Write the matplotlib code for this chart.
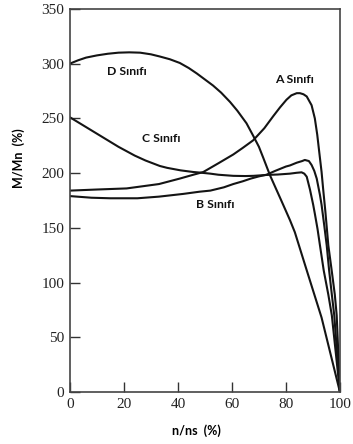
import matplotlib.pyplot as plt

# torque-speed curves, classes A-D
a_x = [0, 10, 21, 33, 40.7, 45.7, 49.4, 55, 60.5, 64, 67.9, 72, 75.3, 77.8, 80.2, 82, 84, 85.2, 86.5, 87.7,
       89.5, 90.7, 91.6, 92.3, 93.2, 93.8, 94.6, 95.7, 97, 98.1, 98.8, 100]
a_y = [184, 185, 186, 190, 195, 198.5, 201, 209, 217, 223, 230, 241, 252, 260, 267, 271, 273, 273, 272, 270,
       262, 250, 235, 220, 201, 185, 165, 134, 110, 89, 70, 0]

b_x = [0, 8, 15, 25, 33, 42, 48, 52, 57, 60.5, 64, 67, 70, 72.8, 76, 80, 81.5, 84, 86, 87, 88.5, 89.5, 90.5,
       91.4, 92.6, 93.2, 94.2, 95.1, 96, 97, 97.9, 100]
b_y = [179, 177.5, 177, 177, 178.5, 181, 183, 184, 187, 190, 192.5, 195, 197, 198.5, 202, 206, 207, 209.5, 211, 212, 211, 207.4, 202,
       195, 180, 171, 152, 134, 111, 89, 70, 0]

c_x = [0, 3, 6, 9, 12, 15, 18, 21, 24, 28, 33.3, 36, 41, 45.7, 48, 52, 55, 60.5, 65, 68, 72.8, 77, 81.5, 84, 85.8,
       86.8, 87.7, 88.9, 90.1, 90.7, 91.7, 92.6, 94, 95.7, 97, 100]
c_y = [251, 246.5, 242, 237.5, 233, 228.5, 224, 220, 216, 211.5, 206.5, 204.8, 202.5, 201, 200.5, 199.5, 198.5, 197.5, 197.3, 197.5, 198.3, 198.7, 199.5, 200.3, 200.7,
       199.5, 196.7, 185, 171, 163, 149, 134, 111, 89, 70, 0]

d_x = [0, 3, 6, 10, 14, 18, 22, 26, 30, 33.3, 37, 40.7, 44, 47, 50, 53, 56, 59.3, 62, 65.4, 67.9, 70, 71.6,
       74.1, 76, 78, 79.8, 81.5, 83.3, 87.6, 93.2, 100]
d_y = [300, 303, 305.5, 307.5, 309, 310, 310.3, 310, 308.5, 306.5, 304, 300.6, 296, 291, 285.5, 280, 273.5, 265, 257, 245.5, 234, 224, 214,
       198, 187.5, 176.5, 166.5, 157, 146, 112, 68, 0]

labels = ['A Sınıfı', 'B Sınıfı', 'C Sınıfı', 'D Sınıfı']
label_x = [83.3, 53.7, 34, 21]
label_y = [285.6, 171, 231.8, 292.7]

x_ticks = [0, 20, 40, 60, 80, 100]
y_ticks = [0, 50, 100, 150, 200, 250, 300, 350]

fig = plt.figure(figsize=(3.53, 4.44), dpi=100)
ax = fig.add_axes([0.198, 0.117, 0.765, 0.863])

for xs, ys in [(a_x, a_y), (b_x, b_y), (c_x, c_y), (d_x, d_y)]:
    ax.plot(xs, ys, color='#141414', lw=1.5, solid_joinstyle='round', solid_capstyle='round')

for t, x, y in zip(labels, label_x, label_y):
    ax.text(x, y, t, ha='center', va='center', fontsize=8.8, fontweight='bold',
            family='Lato', color='#111111')

ax.set_xlim(0, 100)
ax.set_ylim(0, 350)
ax.set_xticks(x_ticks)
ax.set_yticks(y_ticks)
ax.tick_params(direction='in', length=7, width=1, color='#333333',
               labelsize=11, pad=4, labelcolor='#222222')
for lab in ax.get_xticklabels() + ax.get_yticklabels():
    lab.set_family('Liberation Serif')
for s in ax.spines.values():
    s.set_linewidth(1.2)
    s.set_color('#444444')

ax.set_xlabel('n/ns  (%)', fontsize=9, fontweight='bold', family='Lato')
ax.set_ylabel('M/Mn  (%)', fontsize=9, fontweight='bold', family='Lato')
ax.xaxis.set_label_coords(0.47, -0.083)
ax.yaxis.set_label_coords(-0.165, 0.61)

fig.savefig('out.png', dpi=100)
